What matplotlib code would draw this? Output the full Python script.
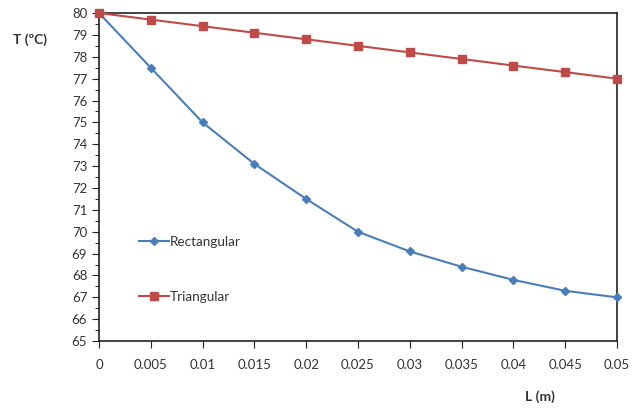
import matplotlib.pyplot as plt
from matplotlib.ticker import MultipleLocator

plt.rcParams['font.family'] = ['Lato', 'DejaVu Sans']

# data
L = [0, 0.005, 0.01, 0.015, 0.02, 0.025, 0.03, 0.035, 0.04, 0.045, 0.05]
T_rect = [80, 77.5, 75.0, 73.1, 71.5, 70.0, 69.1, 68.4, 67.8, 67.3, 67.0]
T_tri = [80, 79.7, 79.4, 79.1, 78.8, 78.5, 78.2, 77.9, 77.6, 77.3, 77.0]
xtick_labels = ['0', '0.005', '0.01', '0.015', '0.02', '0.025', '0.03',
                '0.035', '0.04', '0.045', '0.05']

fig = plt.figure(figsize=(6.44, 4.08), dpi=100)
ax = fig.add_axes([0.1537, 0.164, 0.8043, 0.804])

ax.plot(L, T_rect, color='#4a7ebb', marker='D', markersize=4.5, lw=1.5,
        label='Rectangular', clip_on=False, zorder=3)
ax.plot(L, T_tri, color='#be4b48', marker='s', markersize=5.5, lw=1.5,
        label='Triangular', clip_on=False, zorder=3)

ax.set_xlim(0, 0.05)
ax.set_ylim(65, 80)
ax.set_xticks(L)
ax.set_xticklabels(xtick_labels)
ax.yaxis.set_major_locator(MultipleLocator(1))
ax.yaxis.set_minor_locator(MultipleLocator(0.5))
ax.tick_params(axis='both', which='major', direction='out', length=5,
               labelsize=9.5, colors='#222222', labelcolor='#333333')
ax.tick_params(axis='y', which='minor', direction='out', length=3)
ax.tick_params(axis='x', pad=8)
for s in ax.spines.values():
    s.set_linewidth(1.2)
    s.set_color('#222222')

fig.text(0.047, 0.902, 'T (ºC)', fontsize=10, fontweight='bold', color='#333333',
         ha='center', va='center')
fig.text(0.838, 0.027, 'L (m)', fontsize=10, fontweight='bold', color='#333333',
         ha='center', va='center')

ax.legend(loc='upper left', bbox_to_anchor=(0.197, 0.452), bbox_transform=fig.transFigure,
          frameon=False, labelspacing=3.2, handlelength=2.2, handletextpad=0.1,
          fontsize=9.7, labelcolor='#333333')

fig.savefig('out.png', dpi=100)
